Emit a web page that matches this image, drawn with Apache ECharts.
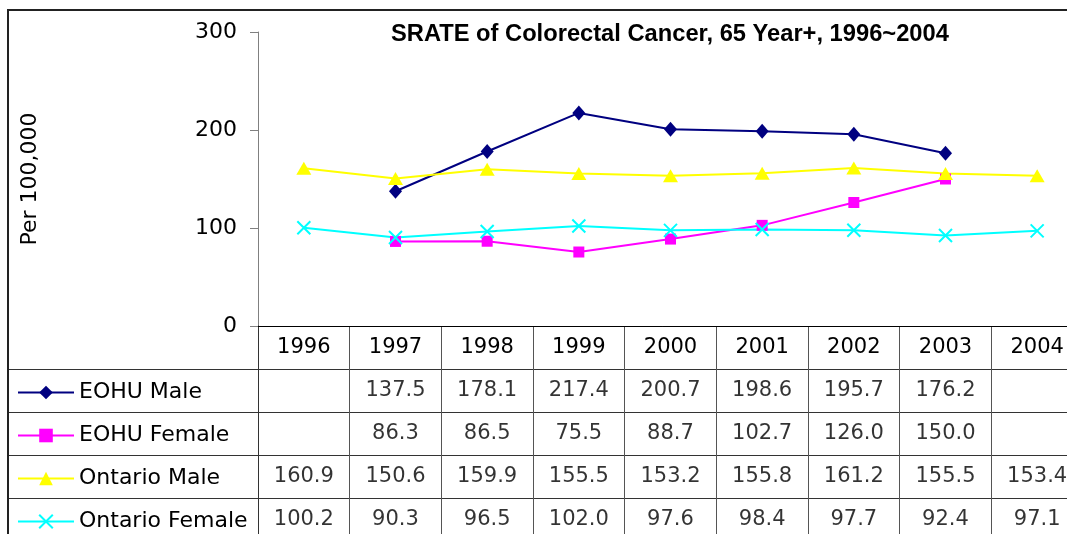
<!DOCTYPE html>
<html>
<head>
<meta charset="utf-8">
<script src="https://cdn.jsdelivr.net/npm/echarts@6/dist/echarts.min.js"></script>
<style>
html,body{margin:0;padding:0;background:#fff;}
#chart{width:1067px;height:534px;}
</style>
</head>
<body>
<div id="chart"></div>
<script>
const years = ['1996','1997','1998','1999','2000','2001','2002','2003','2004'];
const seriesNames = ['EOHU Male','EOHU Female','Ontario Male','Ontario Female'];
const eohuMale      = [null, 137.5, 178.1, 217.4, 200.7, 198.6, 195.7, 176.2, null];
const eohuFemale    = [null, 86.3, 86.5, 75.5, 88.7, 102.7, 126.0, 150.0, null];
const ontarioMale   = [160.9, 150.6, 159.9, 155.5, 153.2, 155.8, 161.2, 155.5, 153.4];
const ontarioFemale = [100.2, 90.3, 96.5, 102.0, 97.6, 98.4, 97.7, 92.4, 97.1];
const yTicks = [0, 100, 200, 300];

const allValues = [eohuMale, eohuFemale, ontarioMale, ontarioFemale];
const colors = ['#000080', '#FF00FF', '#FFFF00', '#00FFFF'];
const symbols = ['diamond', 'rect', 'triangle', 'path://M0,0L10,10M10,0L0,10'];
const symbolSizes = [[13, 15], 11, [15, 13], 13];

const FONT = 'DejaVu Sans';
const OUTER_LEFT = 8;
const TABLE_TOP = 326;
const ROW_H = 43;

// table cell data
const tableCells = [];
allValues.forEach((arr, r) => {
  arr.forEach((v, c) => {
    if (v != null) tableCells.push([c, r + 1, v]);
  });
});

const lineSeries = seriesNames.map((name, i) => ({
  name: name,
  type: 'line',
  xAxisIndex: 0,
  yAxisIndex: 0,
  data: allValues[i],
  symbol: symbols[i],
  symbolSize: symbolSizes[i],
  showAllSymbol: true,
  lineStyle: { color: colors[i], width: 2 },
  itemStyle: { color: colors[i], borderColor: colors[i], borderWidth: i === 3 ? 2 : 0 },
  emphasis: { disabled: true },
  animation: false,
  z: 5
}));

const legends = seriesNames.map((name, i) => ({
  data: [name],
  orient: 'vertical',
  left: 12,
  top: TABLE_TOP + ROW_H * (i + 1.5) - 15,
  padding: 5,
  itemWidth: 56,
  itemHeight: 17,
  textStyle: { fontFamily: FONT, fontSize: 22, color: '#000', lineHeight: 24 },
  selectedMode: false
}));

const option = {
  backgroundColor: '#fff',
  animation: false,
  title: {
    text: 'SRATE of Colorectal Cancer, 65 Year+, 1996~2004',
    left: 386,
    top: 17,
    textStyle: { fontFamily: 'Liberation Sans', fontWeight: 'bold', fontSize: 23.7, color: '#000' }
  },
  legend: legends,
  graphic: [{
    type: 'rect',
    shape: { x: OUTER_LEFT, y: 10, width: 1067, height: 540 },
    style: { fill: 'none', stroke: '#222', lineWidth: 2 },
    z: 100
  }],
  grid: [
    { left: 258, width: 825, top: 32, height: 294, outerBoundsMode: 'none', containLabel: false },
    { left: 258, width: 825, top: TABLE_TOP, height: ROW_H * 5, outerBoundsMode: 'none', containLabel: false }
  ],
  xAxis: [
    {
      gridIndex: 0,
      type: 'category',
      data: years,
      boundaryGap: true,
      axisLine: { show: true, lineStyle: { color: '#000', width: 1 } },
      axisTick: { show: false },
      axisLabel: { margin: 11, fontFamily: FONT, fontSize: 21, color: '#000' },
      splitLine: { show: false }
    },
    {
      gridIndex: 1,
      type: 'category',
      data: years,
      boundaryGap: true,
      axisLine: { show: false },
      axisTick: { show: false },
      axisLabel: { show: false },
      splitLine: { show: true, lineStyle: { color: '#555', width: 1 } }
    }
  ],
  yAxis: [
    {
      gridIndex: 0,
      type: 'value',
      min: 0,
      max: 300,
      interval: 100,
      name: 'Per 100,000',
      nameLocation: 'middle',
      nameGap: 217,
      nameRotate: 90,
      nameTextStyle: { fontFamily: FONT, fontSize: 22, color: '#000' },
      axisLine: { show: true, lineStyle: { color: '#808080', width: 1 } },
      axisTick: { show: true, length: 8, lineStyle: { color: '#808080' } },
      axisLabel: {
        margin: 21, fontFamily: FONT, fontSize: 22, color: '#000',
        formatter: v => (yTicks.indexOf(v) >= 0 ? String(v) : '')
      },
      splitLine: { show: false }
    },
    {
      gridIndex: 1,
      type: 'category',
      data: [''].concat(seriesNames),
      inverse: true,
      boundaryGap: true,
      axisLine: { show: true, lineStyle: { color: '#333', width: 1 } },
      axisTick: { show: false },
      axisLabel: { show: false },
      splitLine: { show: true, lineStyle: { color: '#333', width: 1 } }
    }
  ],
  series: lineSeries.concat([
    {
      name: 'tableValues',
      type: 'scatter',
      xAxisIndex: 1,
      yAxisIndex: 1,
      data: tableCells,
      symbolSize: 1,
      itemStyle: { color: 'rgba(0,0,0,0)' },
      label: {
        show: true,
        position: 'inside',
        formatter: p => p.value[2].toFixed(1),
        fontFamily: FONT,
        fontSize: 21,
        color: '#000'
      },
      emphasis: { disabled: true },
      silent: true
    },
    {
      name: 'leftRowLines',
      type: 'custom',
      xAxisIndex: 1,
      yAxisIndex: 1,
      clip: false,
      silent: true,
      data: [[0, 1], [0, 2], [0, 3], [0, 4]],
      renderItem: function (params, api) {
        const c = api.coord([0, api.value(1)]);
        const h = api.size([0, 1])[1];
        const y = Math.round(c[1] - h / 2) + 0.5;
        return {
          type: 'line',
          shape: { x1: OUTER_LEFT, y1: y, x2: params.coordSys.x, y2: y },
          style: { stroke: '#333', lineWidth: 1 }
        };
      }
    }
  ])
};

const chart = echarts.init(document.getElementById('chart'), null, { renderer: 'canvas' });
chart.setOption(option);
</script>
</body>
</html>
